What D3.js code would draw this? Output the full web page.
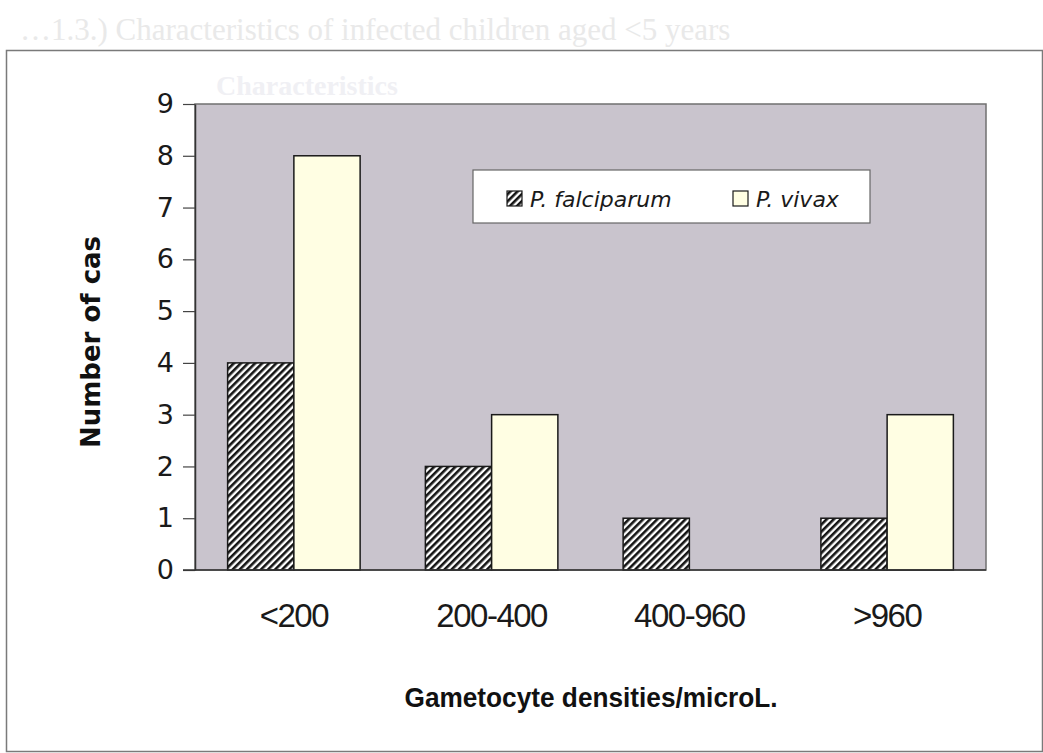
<!DOCTYPE html>
<html>
<head>
<meta charset="utf-8">
<script src="https://cdn.jsdelivr.net/npm/d3@7"></script>
<style>
  html, body { margin: 0; padding: 0; background: #ffffff; }
  svg { display: block; }
</style>
</head>
<body>
<svg id="chart" width="1043" height="753"></svg>
<script>
// ---- data ----
const categories = ["<200", "200-400", "400-960", ">960"];
const seriesNames = ["P. falciparum", "P. vivax"];
const falciparum = [4, 2, 1, 1];
const vivax = [8, 3, 0, 3];
const yTicks = [0, 1, 2, 3, 4, 5, 6, 7, 8, 9];
const xTitle = "Gametocyte densities/microL.";
const yTitle = "Number of cas";

const svg = d3.select("#chart");
const W = 1043, H = 753;

// faint scan bleed-through text
svg.append("text").attr("x", 20).attr("y", 40)
  .attr("font-family", "Liberation Serif").attr("font-size", 31)
  .attr("fill", "#e9e9e9").text("…1.3.) Characteristics of infected children aged <5 years");

// outer frame
svg.append("rect").attr("x", 6.5).attr("y", 50.5).attr("width", W - 7).attr("height", H - 52)
  .attr("fill", "none").attr("stroke", "#7a7a7a").attr("stroke-width", 1.5);

svg.append("text").attr("x", 216).attr("y", 95)
  .attr("font-family", "Liberation Serif").attr("font-size", 28).attr("font-weight", "bold")
  .attr("fill", "#f0f0f4").text("Characteristics");

const plot = { left: 195, right: 986, top: 104, bottom: 570 };

const x = d3.scaleBand().domain(categories).range([plot.left, plot.right])
  .paddingInner(0.33).paddingOuter(0.165);
const xs = d3.scaleBand().domain(seriesNames).range([0, x.bandwidth()]);
const y = d3.scaleLinear().domain([0, 9]).range([plot.bottom, plot.top]);

// hatch pattern
const defs = svg.append("defs");
const pat = defs.append("pattern").attr("id", "hatch").attr("patternUnits", "userSpaceOnUse")
  .attr("width", 5).attr("height", 5).attr("patternTransform", "rotate(45)");
pat.append("rect").attr("width", 5).attr("height", 5).attr("fill", "#ffffff");
pat.append("rect").attr("width", 2.6).attr("height", 5).attr("fill", "#141414");

// plot background
svg.append("rect").attr("x", plot.left).attr("y", plot.top)
  .attr("width", plot.right - plot.left).attr("height", plot.bottom - plot.top)
  .attr("fill", "#c9c4cd").attr("stroke", "#707070").attr("stroke-width", 1.5);

// bars
const fills = { "P. falciparum": "url(#hatch)", "P. vivax": "#fffee3" };
const rows = categories.map((c, i) => ({ c, vals: [
  { s: "P. falciparum", v: falciparum[i] },
  { s: "P. vivax", v: vivax[i] }
]}));
const g = svg.append("g").selectAll("g").data(rows).join("g")
  .attr("transform", d => `translate(${x(d.c)},0)`);
g.selectAll("rect").data(d => d.vals.filter(e => e.v > 0)).join("rect")
  .attr("x", d => xs(d.s)).attr("width", xs.bandwidth())
  .attr("y", d => y(d.v)).attr("height", d => y(0) - y(d.v))
  .attr("fill", d => fills[d.s]).attr("stroke", "#1a1a1a").attr("stroke-width", 1.5);

// y axis
const yAxis = svg.append("g").attr("transform", `translate(${plot.left},0)`)
  .call(d3.axisLeft(y).tickValues(yTicks).tickSize(12).tickPadding(9).tickSizeOuter(0));
yAxis.select(".domain").attr("stroke", "#333").attr("stroke-width", 1.5);
yAxis.selectAll(".tick line").attr("stroke", "#444").attr("stroke-width", 1.2);
yAxis.selectAll("text").attr("font-family", "DejaVu Sans").attr("font-size", 27)
  .attr("fill", "#1a1a1a");

// x axis
const xAxis = svg.append("g").attr("transform", `translate(0,${plot.bottom})`)
  .call(d3.axisBottom(x).tickSize(0).tickPadding(34).tickSizeOuter(0));
xAxis.select(".domain").attr("stroke", "#333").attr("stroke-width", 1.5)
  .attr("d", `M${plot.left - 12},0H${plot.right}`);
xAxis.selectAll("text").attr("font-family", "Liberation Sans").attr("font-size", 33)
  .attr("fill", "#1a1a1a").attr("letter-spacing", "-1.5px");

// axis titles
svg.append("text").attr("x", 591).attr("y", 707).attr("text-anchor", "middle")
  .attr("font-family", "Liberation Sans").attr("font-weight", "bold").attr("font-size", 27)
  .attr("fill", "#111").attr("textLength", 373).attr("lengthAdjust", "spacingAndGlyphs")
  .text(xTitle);
svg.append("text").attr("transform", "translate(100,342) rotate(-90)").attr("text-anchor", "middle")
  .attr("font-family", "DejaVu Sans").attr("font-weight", "bold").attr("font-size", 26)
  .attr("fill", "#111").text(yTitle);

// legend
const lg = svg.append("g");
lg.append("rect").attr("x", 473).attr("y", 170).attr("width", 397).attr("height", 53)
  .attr("fill", "#ffffff").attr("stroke", "#666").attr("stroke-width", 1.2);
const legendX = [507, 733];
seriesNames.forEach((s, i) => {
  lg.append("rect").attr("x", legendX[i]).attr("y", 191).attr("width", 15).attr("height", 15)
    .attr("fill", fills[s]).attr("stroke", "#1a1a1a").attr("stroke-width", 1.2);
  lg.append("text").attr("x", legendX[i] + 23).attr("y", 206.5)
    .attr("font-family", "DejaVu Sans").attr("font-style", "italic").attr("font-size", 22)
    .attr("fill", "#1a1a1a").text(s);
});
</script>
</body>
</html>
